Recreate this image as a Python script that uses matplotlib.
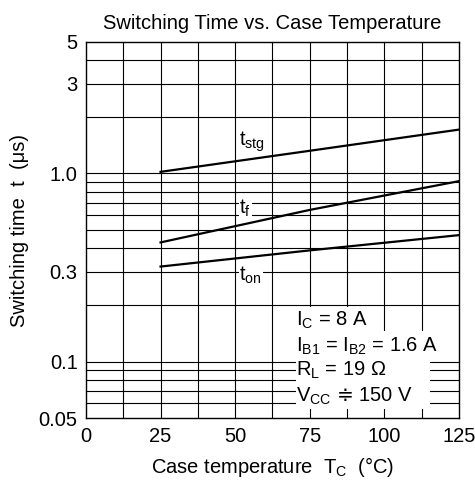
import numpy as np
import matplotlib
matplotlib.use('Agg')
import matplotlib.pyplot as plt
from matplotlib.patches import Rectangle

plt.rcParams['font.family'] = ['Liberation Sans', 'DejaVu Sans']
plt.rcParams['mathtext.fontset'] = 'custom'
plt.rcParams['mathtext.rm'] = 'Liberation Sans'
plt.rcParams['mathtext.it'] = 'Liberation Sans:italic'
plt.rcParams['mathtext.sf'] = 'DejaVu Sans'
plt.rcParams['mathtext.fallback'] = 'stixsans'

# values
temps = [25, 75, 125]
t_stg = [1.02, 1.32, 1.71]
t_f = [0.43, 0.64, 0.91]
t_on = [0.32, 0.39, 0.47]

x_ticks = [0, 25, 50, 75, 100, 125]
y_ticks = [0.05, 0.1, 0.3, 1.0, 3, 5]
y_tick_labels = ['0.05', '0.1', '0.3', '1.0', '3', '5']

conditions = [r'I$_\mathrm{C}$ = 8 A',
              r'I$_\mathrm{B1}$ = I$_\mathrm{B2}$ = 1.6 A',
              r'R$_\mathrm{L}$ = 19 Ω',
              r'V$_\mathrm{CC}$ $\mathsf{≑}$ 150 V']

FS = 14.5

fig = plt.figure(figsize=(4.75, 4.88), dpi=100)
ax = fig.add_axes([0.181, 0.143, 0.785, 0.771])
ax.set_yscale('log')
ax.set_xlim(0, 125)
ax.set_ylim(0.05, 5)

# grid: x every 12.5, y at 1..9 per decade
for gx in np.arange(12.5, 125, 12.5):
    ax.axvline(gx, color='black', lw=0.8, zorder=1)
grid_y = [m * d for d in (0.01, 0.1, 1) for m in range(1, 10)]
for gy in grid_y:
    if 0.05 < gy < 5:
        ax.axhline(gy, color='black', lw=0.8, zorder=1)

ax.plot(temps, t_stg, color='black', lw=1.6, zorder=3)
ax.plot(temps, t_f, color='black', lw=1.6, zorder=3)
ax.plot(temps, t_on, color='black', lw=1.6, zorder=3)

lab_kw = dict(fontsize=FS, ha='left', va='center', zorder=4,
              bbox=dict(facecolor='white', edgecolor='none', pad=0.5))
ax.text(51.4, 1.47, r'$\mathrm{t_{stg}}$', **lab_kw)
ax.text(51.4, 0.655, r'$\mathrm{t_f}$', **lab_kw)
ax.text(51.4, 0.289, r'$\mathrm{t_{on}}$', **lab_kw)

# white area behind the conditions
ax.add_patch(Rectangle((70.4, 0.145), 24.5, 0.195 - 0.145, facecolor='white',
                       edgecolor='none', zorder=2))
ax.add_patch(Rectangle((70.4, 0.056), 44.9, 0.145 - 0.056, facecolor='white',
                       edgecolor='none', zorder=2))
cond_y = [0.165, 0.121, 0.0893, 0.0657]
for s, yy in zip(conditions, cond_y):
    ax.text(70.5, yy, s, fontsize=FS, ha='left', va='center', zorder=4)

ax.set_xticks(x_ticks)
ax.set_xticklabels([str(v) for v in x_ticks])
ax.set_yticks(y_ticks)
ax.set_yticklabels(y_tick_labels)
ax.yaxis.set_minor_locator(matplotlib.ticker.NullLocator())
ax.tick_params(length=0, labelsize=FS, pad=6)
for sp in ax.spines.values():
    sp.set_linewidth(1.0)
    sp.set_zorder(5)

ax.set_title('Switching Time vs. Case Temperature', fontsize=FS, pad=9)
ax.set_xlabel(r'Case temperature  T$_\mathrm{C}$  (°C)', fontsize=FS, labelpad=7)
ax.set_ylabel(r'Switching time  t  (μs)', fontsize=FS, labelpad=7)

fig.savefig('out.png', dpi=100)
